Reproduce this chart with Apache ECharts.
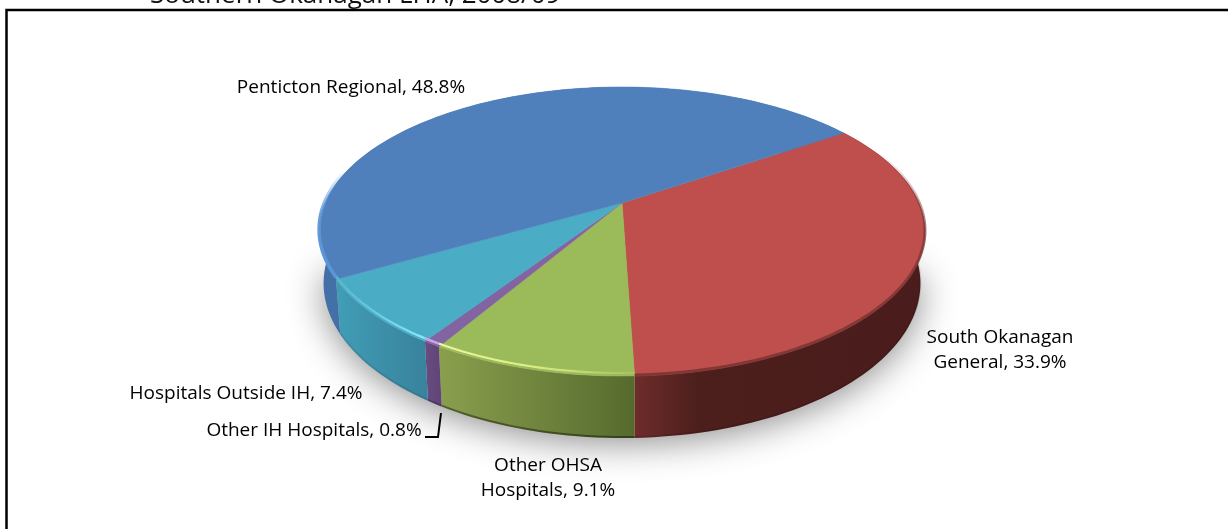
<!DOCTYPE html>
<html><head><meta charset="utf-8">
<style>html,body{margin:0;padding:0;background:#fff}#c{width:1228px;height:529px}</style>
<script src="https://cdn.jsdelivr.net/npm/echarts@6/dist/echarts.min.js"></script>
</head><body><div id="c"></div>
<script>
const titleText = 'Southern Okanagan LHA, 2008/09';
const categories = ['South Okanagan General','Other OHSA Hospitals','Other IH Hospitals','Hospitals Outside IH','Penticton Regional'];
const shares = [33.9, 9.1, 0.8, 7.4, 48.8];
const labelLines = [['South Okanagan','General, 33.9%'],['Other OHSA','Hospitals, 9.1%'],['Other IH Hospitals, 0.8%'],['Hospitals Outside IH, 7.4%'],['Penticton Regional, 48.8%']];
const topColors = ['#BE4F4C','#9BBA59','#8364A3','#4BACC6','#4F80BC'];
const sideStops = [[[0,'#6E2C2A'],[0.22,'#4C1F1D'],[1,'#4A1D1C']],[[0,'#8A9F4D'],[1,'#566A2E']],[[0,'#6A4C80'],[1,'#5F4476']],[[0,'#419DB6'],[1,'#38829C']],[[0,'#4470A8'],[1,'#3F6A9F']]];
const rimStops = [[[0,'rgba(120,50,48,0.85)'],[0.65,'rgba(120,50,48,0.7)'],[1,'rgba(130,55,52,0)']],[[0,'#EAF89A'],[0.5,'#D8EC85'],[1,'#A8BE62']],[[0,'#C9A6E8'],[1,'#C9A6E8']],[[0,'#52B6CE'],[1,'#86EAF8']],[[0,'rgba(92,150,216,1)'],[0.6,'rgba(92,150,216,0.9)'],[1,'rgba(92,150,216,0)']]];
const rimVectors = [[0,1,0,0],[0,0,1,0],[0,0,1,0],[0,0,1,0],[0,1,0,0]];
const rimRanges = [[0.1,1],[0,1],[0,1],[0,1],[0,0.24]];
const rimInset = [1,3,3,3,2];
const rimWidth = [3,2.2,2.5,2.2,3.5];
const edgeAlpha = [0.1,0.4,0.2,0.1,0];
const labelAnchors = [[1000,338],[548,466],[314,431],[246,394],[351,88]];

// Perspective model of the pie plate
const OX=622, OY=203, A=297, B=138.9, K=-0.1972, DEPTH=49.8, SHRINK=0.985, START=56;
const rad=d=>d*Math.PI/180;
function rimTop(t){const u=Math.sin(rad(t)),w=-Math.cos(rad(t)),s=1+K*w;return [OX+A*u/s,OY+B*w/s];}
function rimBot(t){const p=rimTop(t),w=-Math.cos(rad(t));return [OX+(p[0]-OX)*SHRINK,p[1]+DEPTH/(1+K*w)];}
const total=shares.reduce((a,b)=>a+b,0);
function span(i){let s=START;for(let k=0;k<i;k++)s+=shares[k]/total*360;return [s,s+shares[i]/total*360];}
function arc(a,b,f){const n=Math.max(4,Math.ceil(Math.abs(b-a)/1.5)),o=[];for(let j=0;j<=n;j++)o.push(f(a+(b-a)*j/n));return o;}
const grad=(v,st)=>new echarts.graphic.LinearGradient(v[0],v[1],v[2],v[3],st.map(s=>({offset:s[0],color:s[1]})));

const data=shares.map((v,i)=>({name:categories[i],value:v}));
const base={type:'custom',coordinateSystem:'none',data,silent:true,animation:false};

const option={
  animation:false,
  backgroundColor:'#fff',
  graphic:[
    {type:'text',z:50,left:150,top:-17,style:{text:titleText,font:'26px "Open Sans"',fill:'#111'}},
    {type:'polyline',z:50,shape:{points:[[6.5,529],[6.5,10],[1228,10]]},style:{stroke:'#000',lineWidth:2.5,fill:null}},
    {type:'polyline',z:60,shape:{points:[[425,437],[438,437],[441,413]]},style:{stroke:'#000',lineWidth:2,fill:null}}
  ],
  series:[
    Object.assign({},base,{z:1,data:[shares[0]],renderItem(){
      const pts=arc(0,360,t=>{const p=rimBot(t);return [p[0],Math.max(p[1],270)];});
      return {type:'polygon',shape:{points:pts},style:{fill:'#ccc',shadowBlur:36,shadowColor:'rgba(0,0,0,0.45)',shadowOffsetY:5}};
    }}),
    Object.assign({},base,{z:2,renderItem(p){
      const i=p.dataIndex,[a,b]=span(i);
      const t=arc(a,b,rimTop),bt=arc(a,b,rimBot);
      return {type:'group',children:[
        {type:'polygon',shape:{points:t.concat(bt.slice().reverse())},style:{fill:grad([0,0,1,0],sideStops[i]),stroke:null}},
        {type:'polyline',shape:{points:bt.map(q=>[q[0],q[1]-1])},style:{fill:null,stroke:'rgba(0,0,0,'+edgeAlpha[i]+')',lineWidth:2}}
      ]};
    }}),
    Object.assign({},base,{z:3,renderItem(p){
      const i=p.dataIndex,[a,b]=span(i);
      return {type:'polygon',shape:{points:[[OX,OY]].concat(arc(a,b,rimTop))},style:{fill:topColors[i],stroke:topColors[i],lineWidth:0.5}};
    }}),
    Object.assign({},base,{z:4,renderItem(p){
      const i=p.dataIndex,[a,b]=span(i),r=rimRanges[i];
      const pts=arc(a+(b-a)*r[0],a+(b-a)*r[1],rimTop).map(q=>[q[0],q[1]-rimInset[i]]);
      return {type:'polyline',shape:{points:pts},style:{fill:null,stroke:grad(rimVectors[i],rimStops[i]),lineWidth:rimWidth[i]}};
    }}),
    Object.assign({},base,{z:5,renderItem(p){
      const i=p.dataIndex,[x,y]=labelAnchors[i];
      return {type:'group',children:labelLines[i].map((s,k)=>({type:'text',x:x,y:y+k*25,style:{text:s,font:'500 19px "Open Sans"',fill:'#000',textAlign:'center',textVerticalAlign:'middle'}}))};
    }})
  ]
};
echarts.init(document.getElementById('c'),null,{renderer:'canvas'}).setOption(option);
</script></body></html>
